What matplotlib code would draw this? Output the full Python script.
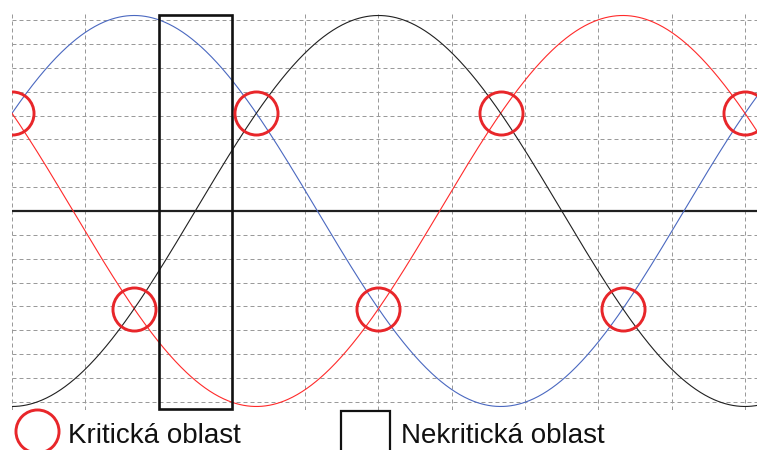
import numpy as np
import matplotlib.pyplot as plt
from matplotlib.lines import Line2D
from matplotlib.patches import Rectangle

plt.rcParams['font.family'] = ['Liberation Sans', 'DejaVu Sans']

# Phase angle (degrees) and the three phase offsets
theta = np.linspace(0, 366, 800)
phase_names = ["blue", "red", "black"]
phase_offsets = [30, 150, 270]
phase_colors = ["#4a68c0", "#ff2a2a", "#202020"]

# Crossing points of the phases (critical regions)
cross_top_x = [0, 120, 240, 360]
cross_top_y = [0.5, 0.5, 0.5, 0.5]
cross_bot_x = [60, 180, 300]
cross_bot_y = [-0.5, -0.5, -0.5]

# Non-critical window
window_x = [72, 108]
window_y = [-1.011, 1.004]

# Grid
grid_x = np.arange(0, 361, 36)
grid_y = np.arange(-8, 9) * 0.1221

legend_labels = ["Kritická oblast", "Nekritická oblast"]

W, H = 757, 450
fig = plt.figure(figsize=(W / 100, H / 100), dpi=100)
ax = fig.add_axes([12 / W, 1 - 410 / H, 1 - 12 / W, 397 / H])
ax.set_xlim(0, 745 / 2.0361)
ax.set_ylim(-1.018, 1.0128)

ax.set_xticks(grid_x)
ax.set_yticks(grid_y)
ax.grid(True, color="#9a9a9a", linestyle=(0, (4, 3)), linewidth=0.72)
ax.tick_params(length=0, labelbottom=False, labelleft=False)
for s in ax.spines.values():
    s.set_visible(False)

ax.axhline(0, color="#202020", linewidth=1.6)

for name, off, col in zip(phase_names, phase_offsets, phase_colors):
    ax.plot(theta, np.sin(np.radians(theta + off)), color=col, linewidth=0.8)

ax.add_patch(Rectangle((window_x[0], window_y[0]), window_x[1] - window_x[0],
                       window_y[1] - window_y[0], fill=False, edgecolor="#111111",
                       linewidth=1.9, clip_on=False, zorder=5))

circle_style = dict(linestyle="none", marker="o", markersize=31, markerfacecolor="none",
                    markeredgecolor="#e8262a", markeredgewidth=2.1, zorder=6)
ax.plot(cross_top_x, cross_top_y, **circle_style)
ax.plot(cross_bot_x, cross_bot_y, **circle_style)

# Legend drawn along the bottom edge
fig.add_artist(Line2D([36.5 / W], [1 - 431 / H], transform=fig.transFigure,
                      **circle_style))
fig.text(68 / W, 1 - 443 / H, legend_labels[0], fontsize=20, va="baseline", color="#111111")
fig.add_artist(Rectangle((341 / W, 1 - 460 / H), 49 / W, 49 / H,
                         transform=fig.transFigure, fill=False,
                         edgecolor="#111111", linewidth=1.6))
fig.text(401 / W, 1 - 443 / H, legend_labels[1], fontsize=20, va="baseline", color="#111111")

fig.savefig("out.png", dpi=100)
